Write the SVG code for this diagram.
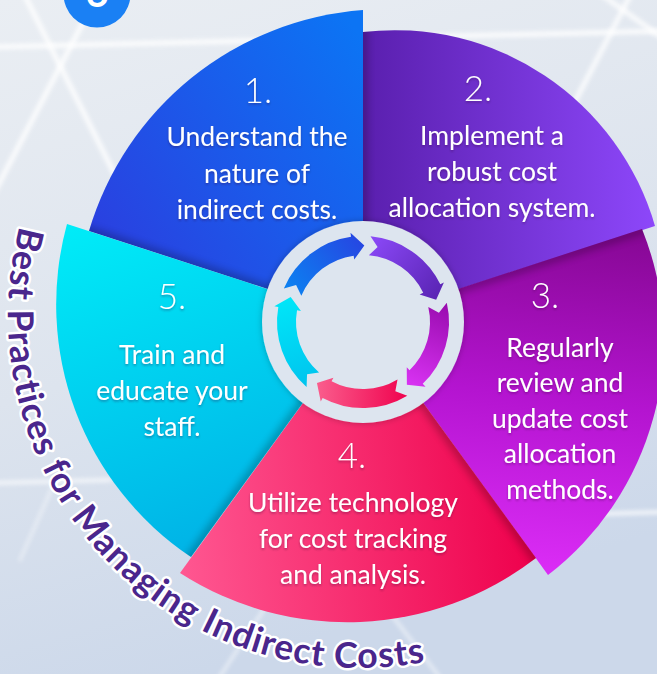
<svg xmlns="http://www.w3.org/2000/svg" width="657" height="674" viewBox="0 0 657 674">
<defs>
<style>
.lbl{font-family:Lato,"Liberation Sans",sans-serif;fill:#fff;text-anchor:middle;font-size:26.5px;filter:url(#tsh)}
.num{font-family:Lato,"Liberation Sans",sans-serif;fill:#fff;text-anchor:middle;font-size:35px;font-weight:300;filter:url(#tsh)}
.lat{stroke:#fff;stroke-linecap:round;fill:none;filter:url(#blur3)}
.shl{stroke:#000;stroke-width:7;opacity:.32;filter:url(#blur5)}
.title{font-family:Lato,"Liberation Sans",sans-serif;font-size:35.5px;font-weight:700;letter-spacing:1px;fill:#4a268c;stroke:#fff;stroke-width:5px;stroke-linejoin:round;paint-order:stroke}
</style>
<linearGradient id="bg" x1="0" y1="0" x2="0.3" y2="1">
<stop offset="0" stop-color="#eaeef3"/><stop offset="0.55" stop-color="#dde4ee"/><stop offset="1" stop-color="#ccd8ea"/>
</linearGradient>
<linearGradient id="gBlue" gradientUnits="userSpaceOnUse" x1="363" y1="40" x2="95" y2="235">
<stop offset="0" stop-color="#0c74f4"/><stop offset="1" stop-color="#2a40e0"/>
</linearGradient>
<linearGradient id="gPurple" gradientUnits="userSpaceOnUse" x1="363" y1="0" x2="655" y2="0">
<stop offset="0" stop-color="#5a1fae"/><stop offset="1" stop-color="#8d47fa"/>
</linearGradient>
<linearGradient id="gMag" gradientUnits="userSpaceOnUse" x1="600" y1="235" x2="560" y2="570">
<stop offset="0" stop-color="#880896"/><stop offset="0.5" stop-color="#b414d0"/><stop offset="1" stop-color="#da2cf5"/>
</linearGradient>
<linearGradient id="gPink" gradientUnits="userSpaceOnUse" x1="536" y1="540" x2="180" y2="573">
<stop offset="0" stop-color="#ee004c"/><stop offset="1" stop-color="#ff5791"/>
</linearGradient>
<linearGradient id="gCyan" gradientUnits="userSpaceOnUse" x1="70" y1="224" x2="200" y2="557">
<stop offset="0" stop-color="#00ecf8"/><stop offset="1" stop-color="#00b2e6"/>
</linearGradient>
<linearGradient id="aBlue" gradientUnits="userSpaceOnUse" x1="285" y1="300" x2="362" y2="240">
<stop offset="0" stop-color="#0a86f2"/><stop offset="1" stop-color="#2646e2"/>
</linearGradient>
<linearGradient id="aPurple" gradientUnits="userSpaceOnUse" x1="372" y1="240" x2="440" y2="295">
<stop offset="0" stop-color="#8a48f6"/><stop offset="1" stop-color="#5a24b4"/>
</linearGradient>
<linearGradient id="aMag" gradientUnits="userSpaceOnUse" x1="445" y1="305" x2="410" y2="385">
<stop offset="0" stop-color="#9a0cb0"/><stop offset="1" stop-color="#d832f2"/>
</linearGradient>
<linearGradient id="aPink" gradientUnits="userSpaceOnUse" x1="405" y1="395" x2="318" y2="392">
<stop offset="0" stop-color="#f00550"/><stop offset="1" stop-color="#fa5c8c"/>
</linearGradient>
<linearGradient id="aCyan" gradientUnits="userSpaceOnUse" x1="310" y1="385" x2="282" y2="300">
<stop offset="0" stop-color="#00c4ee"/><stop offset="1" stop-color="#00e6f8"/>
</linearGradient>
<filter id="blur3" filterUnits="userSpaceOnUse" x="-20" y="-20" width="700" height="720"><feGaussianBlur stdDeviation="2.2"/></filter>
<filter id="blur5" filterUnits="userSpaceOnUse" x="-20" y="-20" width="700" height="720"><feGaussianBlur stdDeviation="4"/></filter>
<filter id="tsh" x="-10%" y="-20%" width="120%" height="150%"><feDropShadow dx="0" dy="1.5" stdDeviation="1" flood-color="#300030" flood-opacity="0.35"/></filter>
<filter id="dsh" x="-20%" y="-20%" width="140%" height="140%"><feDropShadow dx="0" dy="0" stdDeviation="3" flood-color="#000" flood-opacity="0.25"/></filter>
<path id="wBlue" d="M363,320 L89,231 A310,310 0 0 1 363,10 Z"/>
<path id="wPurple" d="M363,320 L363,32 A271,271 0 0 1 655,226 Z"/>
<path id="wMag" d="M363,320 L642,229 A296,296 0 0 1 548,575 Z"/>
<path id="wPink" d="M363,320 L536,558 A309,309 0 0 1 180,573 Z"/>
<path id="wCyan" d="M363,320 L191,557 A304,304 0 0 1 67,224 Z"/>
<clipPath id="cBlue"><use href="#wBlue"/></clipPath>
<clipPath id="cPurple"><use href="#wPurple"/></clipPath>
<clipPath id="cMag"><use href="#wMag"/></clipPath>
<clipPath id="cPink"><use href="#wPink"/></clipPath>
<clipPath id="cCyan"><use href="#wCyan"/></clipPath>
<path id="titlePath" d="M29.2,195.6 A352,352 0 0 0 536,620.8"/>
</defs>

<g id="background">
<rect width="657" height="674" fill="url(#bg)"/>
<line class="lat" x1="-10" y1="47" x2="667" y2="31" stroke-width="5" opacity="0.85"/>
<line class="lat" x1="22" y1="-10" x2="130" y2="205" stroke-width="5" opacity="0.85"/>
<line class="lat" x1="100" y1="-10" x2="-20" y2="220" stroke-width="5" opacity="0.85"/>
<line class="lat" x1="598" y1="-8" x2="665" y2="40" stroke-width="5" opacity="0.8"/>
<line class="lat" x1="632" y1="-8" x2="555" y2="140" stroke-width="5" opacity="0.8"/>
<line class="lat" x1="-10" y1="483" x2="110" y2="480" stroke-width="4" opacity="0.7"/>
<line class="lat" x1="595" y1="514" x2="667" y2="512" stroke-width="4" opacity="0.8"/>
<line class="lat" x1="380" y1="600" x2="445" y2="684" stroke-width="3" opacity="0.6"/>
<line class="lat" x1="270" y1="600" x2="215" y2="684" stroke-width="3" opacity="0.6"/>
<line class="lat" x1="60" y1="470" x2="20" y2="560" stroke-width="3" opacity="0.5"/>
</g>

<g id="badge">
<circle cx="97" cy="-6" r="33.5" fill="#1a80f4"/>
<text x="97" y="7" font-family="Lato,'Liberation Sans',sans-serif" font-size="40" font-weight="700" fill="#fff" text-anchor="middle">6</text>
</g>

<g id="wedges">
<use href="#wBlue" fill="url(#gBlue)"/>
<use href="#wPurple" fill="url(#gPurple)"/>
<use href="#wMag" fill="url(#gMag)"/>
<use href="#wPink" fill="url(#gPink)"/>
<use href="#wCyan" fill="url(#gCyan)"/>
<g clip-path="url(#cBlue)"><line class="shl" x1="363" y1="320" x2="60" y2="222"/></g>
<g clip-path="url(#cCyan)"><line class="shl" x1="363" y1="320" x2="178" y2="575"/></g>
<g clip-path="url(#cPink)"><line class="shl" x1="363" y1="320" x2="550" y2="578"/></g>
<g clip-path="url(#cMag)"><line class="shl" x1="363" y1="320" x2="660" y2="224"/></g>
<g clip-path="url(#cPurple)"><line class="shl" x1="363" y1="320" x2="363" y2="5"/></g>
</g>

<g id="step1">
<text class="num" x="258" y="103">1.</text>
<text class="lbl" x="257" y="146">Understand the</text>
<text class="lbl" x="257" y="183">nature of</text>
<text class="lbl" x="257" y="219">indirect costs.</text>
</g>
<g id="step2">
<text class="num" x="478" y="101">2.</text>
<text class="lbl" x="492" y="145">Implement a</text>
<text class="lbl" x="492" y="181">robust cost</text>
<text class="lbl" x="492" y="217">allocation system.</text>
</g>
<g id="step3">
<text class="num" x="545" y="308">3.</text>
<text class="lbl" x="560" y="357">Regularly</text>
<text class="lbl" x="560" y="392">review and</text>
<text class="lbl" x="560" y="428">update cost</text>
<text class="lbl" x="560" y="463">allocation</text>
<text class="lbl" x="560" y="499">methods.</text>
</g>
<g id="step4">
<text class="num" x="352" y="468">4.</text>
<text class="lbl" x="353" y="512">Utilize technology</text>
<text class="lbl" x="353" y="548">for cost tracking</text>
<text class="lbl" x="353" y="584">and analysis.</text>
</g>
<g id="step5">
<text class="num" x="172" y="309">5.</text>
<text class="lbl" x="172" y="364">Train and</text>
<text class="lbl" x="172" y="400">educate your</text>
<text class="lbl" x="172" y="436">staff.</text>
</g>

<g id="hub">
<circle cx="363" cy="322" r="101" fill="#dde5ef" filter="url(#dsh)"/>
</g>

<g id="connectors">
<path fill="url(#aBlue)" d="M283.84,288.40 A86,86 0 0 1 351.03,236.83 L350.47,232.87 L364.33,245.51 L354.23,259.61 L353.67,255.65 A67,67 0 0 0 301.33,295.82 L296.09,284.91 Z"/>
<path fill="url(#aPurple)" d="M370.50,236.33 A86,86 0 0 1 440.30,284.30 L443.89,282.55 L436.16,299.63 L419.62,294.38 L423.22,292.63 A67,67 0 0 0 368.84,255.26 L377.60,246.91 Z"/>
<path fill="url(#aMag)" d="M446.80,302.65 A86,86 0 0 1 422.74,383.86 L425.52,386.74 L406.88,384.66 L406.76,367.32 L409.54,370.20 A67,67 0 0 0 428.28,306.93 L438.93,312.68 Z"/>
<path fill="url(#aPink)" d="M407.29,395.72 A86,86 0 0 1 322.63,397.93 L320.75,401.47 L316.96,383.10 L333.42,377.63 L331.55,381.16 A67,67 0 0 0 397.51,379.43 L395.33,391.33 Z"/>
<path fill="url(#aCyan)" d="M306.58,386.91 A86,86 0 0 1 278.31,307.07 L274.37,306.37 L290.67,297.09 L300.96,311.06 L297.02,310.37 A67,67 0 0 0 319.04,372.57 L307.05,374.17 Z"/>
</g>

<g id="title">
<text class="title"><textPath href="#titlePath" startOffset="32">Best Practices for Managing Indirect Costs</textPath></text>
</g>
</svg>
